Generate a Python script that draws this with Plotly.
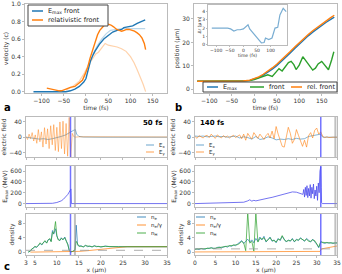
import plotly.graph_objects as go

# ---------------- data ----------------
# top-left: velocity vs time
t_emax = [-118, -90, -60, -45, -35, -25, -15, -5, 0, 5, 10, 15, 20, 30, 40, 50, 60, 70, 80, 85, 95, 105, 115, 125, 133]
v_emax = [0, 0, 0, 0, 0.01, 0.03, 0.06, 0.11, 0.15, 0.25, 0.35, 0.41, 0.46, 0.54, 0.6, 0.64, 0.68, 0.70, 0.71, 0.73, 0.74, 0.75, 0.78, 0.80, 0.82]
t_rel = [-88, -80, -70, -60, -55, -45, -35, -25, -15, -8, -2, 4, 9, 15, 20, 26, 31, 37, 43, 50, 56, 62, 69, 75, 80, 86, 91, 97, 103, 109, 115, 120, 126, 131, 134]
v_rel = [0.04, 0.03, 0.02, 0.01, 0.01, 0.03, 0.05, 0.06, 0.1, 0.13, 0.2, 0.28, 0.38, 0.48, 0.57, 0.65, 0.70, 0.74, 0.77, 0.77, 0.76, 0.74, 0.71, 0.70, 0.69, 0.70, 0.71, 0.71, 0.70, 0.69, 0.67, 0.65, 0.61, 0.55, 0.48]
t_rel_faint = [-45, -30, -15, -5, 5, 15, 22, 28, 35, 43, 50, 60, 70, 80, 90, 100, 108, 115, 122, 128, 134]
v_rel_faint = [0.02, 0.06, 0.12, 0.2, 0.3, 0.38, 0.43, 0.45, 0.5, 0.55, 0.53, 0.52, 0.51, 0.49, 0.46, 0.4, 0.33, 0.25, 0.17, 0.09, 0.0]
t_emax_faint = [15, 25, 35, 45, 55, 65, 80, 100, 120, 133]
v_emax_faint = [0.42, 0.52, 0.6, 0.66, 0.70, 0.71, 0.72, 0.72, 0.72, 0.72]

# top-right: position vs time
t_pos = [-127, -100, -75, -50, -25, -10, 0, 10, 20, 30, 40, 50, 60, 70, 80, 90, 100, 110, 120, 130, 140, 150, 160, 170, 178]
pos_emax = [3.4, 3.4, 3.4, 3.4, 3.5, 3.8, 4.3, 5.0, 6.0, 7.2, 8.6, 10.1, 11.8, 13.6, 15.5, 17.4, 19.3, 21.1, 22.8, 24.4, 25.9, 27.3, 28.6, 29.8, 30.8]
pos_rel = [3.4, 3.4, 3.4, 3.4, 3.5, 3.9, 4.5, 5.3, 6.4, 7.7, 9.1, 10.7, 12.4, 14.2, 16.1, 18.0, 19.9, 21.7, 23.4, 25.0, 26.5, 28.0, 29.4, 30.6, 31.6]
t_front = [-127, -100, -75, -50, -25, -10, 0, 10, 20, 30, 40, 48, 55, 62, 70, 76, 82, 88, 93, 100, 108, 116, 124, 130, 136, 142, 150, 158, 165, 172, 177]
pos_front = [3.4, 3.4, 3.4, 3.4, 3.5, 3.7, 4.1, 4.8, 5.6, 6.2, 5.5, 7.2, 8.8, 7.8, 9.6, 11.4, 11.9, 10.5, 8.4, 10.3, 13.9, 11.8, 9.6, 8.2, 9.0, 10.8, 11.9, 10.0, 8.3, 12.5, 16.0]

# inset: delta r vs time
t_dr = [-116, -90, -58, -47, -35, -23, -12, 0, 12, 17, 23, 35, 47, 58, 66, 76, 81, 93, 105, 116, 126, 134, 146, 157]
dr = [2.0, 2.0, 2.0, 1.9, 1.65, 1.8, 1.8, 1.9, 2.3, 2.4, 1.9, 1.4, 1.0, 0.4, 0.2, 0.25, 0.8, 0.6, 0.8, 2.0, 2.1, 3.6, 4.4, 4.0]

# panel a (50 fs)
xa_ey = [3.0, 3.35, 3.7, 4.05, 4.4, 4.75, 5.1, 5.45, 5.8, 6.15, 6.5, 6.85, 7.2, 7.55, 7.9, 8.25, 8.6, 8.95, 9.3, 9.65, 10.0, 10.35, 10.7, 11.05, 11.4, 11.75, 12.1, 12.45, 12.8, 13.15, 13.5, 13.8, 14.2, 15, 20, 25, 30, 35]
ey_a = [2, -6, 8, -4, 12, -10, 6, -16, 20, -12, 14, -26, 25, -18, 22, -30, 30, -20, 33, -35, 26, -38, 40, -30, 42, -44, 36, -50, 52, -52, 10, 2, 0, 1, 1, 0.5, 0.5, 0.5]
xa_ex = [3, 4, 5, 6, 7, 8, 9, 10, 11, 12, 12.8, 13.3, 13.8, 14.2, 14.5, 15, 16, 20, 25, 30, 35]
ex_a = [0, -2, -4, -5, -4, -6, -4, -2, 2, 6, 12, 15, 18, 20, 8, 2, 0.5, 0, 0, 0, 0]
xa_emax = [3, 5, 7, 9, 10, 11, 11.5, 12, 12.5, 13, 13.2, 13.3, 14.2, 20, 35]
emax_a = [0, 2, 3, 5, 20, 50, 80, 120, 170, 240, 270, 0, 0, 0, 0]
xa_dens = [3.5, 4.0, 4.3, 4.7, 5.0, 5.4, 5.8, 6.2, 6.6, 6.9, 7.3, 7.7, 8.0, 8.4, 8.7, 9.0, 9.3, 9.7, 10.0, 10.3, 10.7, 11.0, 11.4, 11.8, 12.2, 12.5, 12.8, 13.1, 13.6, 14.1, 14.4, 14.7, 15.0, 15.5, 16, 16.5, 17, 17.5, 18, 18.5, 19, 19.5, 20, 21, 22, 23, 24, 25, 27, 30, 35]
ne_a = [0, 0.3, 0.8, 1.2, 1.5, 1.3, 2.0, 2.4, 2.0, 2.6, 3.0, 2.6, 3.4, 3.6, 3.0, 6.0, 5.0, 6.5, 4.5, 3.6, 3.2, 4.0, 3.4, 4.2, 3.0, 2.2, 0.5, 0.0, 0.2, 0.5, 7.5, 2.0, 1.6, 1.8, 1.4, 1.9, 1.5, 1.7, 1.4, 1.8, 1.5, 1.6, 1.4, 1.7, 1.5, 1.6, 1.5, 1.5, 1.5, 1.5, 1.5]
nh_a = [0, 0.3, 0.9, 1.1, 1.6, 1.4, 1.9, 2.6, 2.1, 2.5, 3.2, 2.5, 3.3, 3.8, 2.9, 5.5, 5.2, 8.5, 4.6, 3.4, 3.3, 3.8, 3.5, 4.0, 3.1, 2.0, 0.6, 0.1, 0.2, 0.6, 3.0, 2.2, 1.7, 1.6, 1.5, 1.8, 1.6, 1.6, 1.5, 1.7, 1.6, 1.5, 1.5, 1.6, 1.5, 1.6, 1.5, 1.5, 1.5, 1.5, 1.5]
xa_gam = [4.0, 14.0, 15, 17, 19, 21, 23, 25, 26, 30, 35]
ng_a = [0, 0, 0.2, 0.4, 0.7, 0.9, 1.2, 1.4, 1.5, 1.5, 1.5]
front_a = 13.1
edge_a = 14.1
crit_a = 0.5

# panel b (140 fs)
xb_ey = [0, 0.5, 1, 1.5, 2, 2.5, 3, 3.5, 4, 4.5, 5, 5.5, 6, 6.5, 7, 7.5, 8, 8.5, 9, 9.5, 10, 10.5, 11, 11.5, 12, 12.5, 13, 13.5, 14, 14.5, 15, 15.5, 16, 16.5, 17, 17.5, 18, 18.5, 19, 19.5, 20, 20.5, 21, 21.5, 22, 22.5, 23, 23.5, 24, 24.5, 25, 25.5, 26, 26.5, 27, 27.5, 28, 28.5, 29, 29.5, 30, 30.5, 31, 31.5, 32, 32.5, 33, 33.5, 34, 35]
ey_b = [2, -3, 4, 1, -2, 3, 5, -1, 8, 2, -3, 6, 3, -2, 4, 0, 3, -2, 2, 5, -1, 3, 6, -4, 8, -8, 10, 2, -5, 12, 5, -3, 8, 2, -6, 4, 10, -2, 16, -4, 28, 8, -10, -24, -26, 5, 26, 10, -16, -6, 20, 5, -12, -24, -8, -26, 4, 12, -2, 18, 24, 8, 14, 2, -1, 1, -1, 0.5, 0, 0]
xb_ex = [0, 1, 2, 3, 4, 5, 6, 7, 8, 9, 10, 11, 12, 13, 14, 15, 16, 17, 18, 19, 20, 21, 22, 23, 24, 25, 26, 27, 28, 29, 30, 31, 31.5, 35]
ex_b = [3, 2, 3, 1, 2, 3, 1, 2, 0, 1, 3, -2, 1, -1, -5, 2, -6, -4, 1, -2, -7, -5, -6, -4, -6, -3, -5, -4, 2, 4, 6, 8, 0, 0]
xb_emax = [0, 5, 10, 12, 13, 13.5, 14, 14.5, 15, 16, 17, 18, 19, 20, 21, 22, 23, 24, 25, 26, 26.6, 26.8, 27.0, 27.2, 27.4, 27.6, 27.8, 28.0, 28.2, 28.4, 28.6, 28.8, 29.0, 29.2, 29.4, 29.6, 29.8, 30.0, 30.2, 30.4, 30.6, 30.8, 31.0, 31.1, 31.2, 31.4, 32, 35]
emax_b = [0, 5, 15, 25, 50, 70, 45, 60, 50, 70, 90, 100, 115, 135, 155, 175, 195, 215, 210, 185, 170, 260, 120, 300, 150, 330, 110, 280, 140, 350, 100, 300, 180, 360, 90, 250, 140, 320, 60, 380, 200, 600, 680, 300, 20, 0, 0, 0]
xb_dens = [0, 0.5, 1, 1.5, 2, 2.5, 3, 3.5, 4, 4.5, 5, 5.5, 6, 6.5, 7, 7.5, 8, 8.5, 9, 9.5, 10, 10.5, 11, 11.5, 12, 12.5, 13, 13.5, 14, 14.5, 15, 15.5, 16, 16.5, 17, 17.5, 18, 18.5, 19, 19.5, 20, 20.5, 21, 21.5, 22, 22.5, 23, 23.5, 24, 24.5, 25, 25.5, 26, 26.5, 27, 27.5, 28, 28.5, 29, 29.5, 30, 30.5, 31, 31.5, 32, 32.5, 33, 33.5, 34, 34.5, 35]
ne_b = [0.8, 0.9, 0.7, 1.0, 0.9, 0.8, 1.1, 1.0, 1.2, 1.1, 1.0, 1.3, 1.4, 1.2, 1.5, 1.6, 1.4, 1.8, 1.6, 2.0, 1.8, 2.2, 2.6, 3.2, 2.4, 3.0, 3.6, 2.8, 3.4, 2.6, 3.8, 3.0, 4.2, 3.4, 4.4, 2.8, 3.6, 4.2, 3.0, 3.4, 2.6, 3.8, 3.2, 4.4, 3.6, 2.8, 3.4, 3.0, 3.8, 2.8, 3.6, 3.2, 4.0, 3.4, 3.0, 3.8, 3.2, 2.8, 3.6, 3.0, 2.2, 1.2, 3.0, 2.6, 2.4, 2.7, 2.5, 2.6, 2.4, 2.6, 2.5]
nh_b = [0.8, 0.9, 0.8, 1.0, 0.9, 0.9, 1.0, 1.1, 1.2, 1.0, 1.1, 1.2, 1.3, 1.3, 1.4, 1.5, 1.5, 1.7, 1.7, 1.9, 1.9, 2.1, 2.4, 3.0, 2.6, 0.4, 11.0, 2.5, 3.0, 0.3, 11.0, 2.8, 3.8, 3.6, 4.0, 3.0, 3.4, 4.0, 3.2, 3.2, 2.8, 3.6, 3.4, 4.6, 3.4, 3.0, 3.2, 3.2, 3.6, 3.0, 3.4, 3.4, 3.8, 3.6, 3.2, 3.6, 3.0, 3.0, 3.4, 3.2, 2.4, 1.4, 2.8, 2.7, 2.5, 2.6, 2.6, 2.5, 2.5, 2.5, 2.6]
xb_gam = [0, 10, 20, 30, 30.8, 31.2, 31.6, 32, 33, 34, 35]
ng_b = [0.05, 0.08, 0.1, 0.1, 0.2, 0.9, 1.0, 1.1, 1.3, 1.5, 1.7]
front_b = 31.0
edge_b = 34.6
crit_b = 0.9

# ---------------- style ----------------
W, H = 342, 274
BLUE = "#1f77b4"
ORANGE = "#ff7f0e"
GREEN = "#2ca02c"
EX_C = "rgba(31,119,180,0.55)"
EY_C = "rgba(255,127,14,0.6)"
NE_C = "rgba(31,119,180,0.7)"
NG_C = "rgba(255,127,14,0.7)"
NH_C = "rgba(44,160,44,0.7)"
EMAXC = "rgba(70,70,235,0.75)"
FONT = "DejaVu Sans"
FS = 6
TXT = "#333333"


def xdom(a, b):
    return [a / W, b / W]


def ydom(top, bottom):
    return [1 - bottom / H, 1 - top / H]


fig = go.Figure()


def line(x, y, color, name, xa, ya, width=1.2):
    fig.add_trace(go.Scatter(
        x=x, y=y, mode="lines", name=name,
        line=dict(color=color, width=width),
        xaxis=xa, yaxis=ya, showlegend=False))


# top-left
line(t_emax_faint, v_emax_faint, "rgba(31,119,180,0.3)", "E<sub>max</sub> front (faint)", "x", "y")
line(t_rel_faint, v_rel_faint, "rgba(255,127,14,0.35)", "relativistic front (faint)", "x", "y")
line(t_emax, v_emax, BLUE, "E<sub>max</sub> front", "x", "y", width=1.4)
line(t_rel, v_rel, ORANGE, "relativistic front", "x", "y", width=1.4)

# top-right
line(t_pos, pos_emax, BLUE, "E<sub>max</sub>", "x2", "y2", width=1.4)
line(t_front, pos_front, GREEN, "front", "x2", "y2", width=1.4)
line(t_pos, pos_rel, ORANGE, "rel. front", "x2", "y2", width=1.4)

# inset
line(t_dr, dr, "rgba(31,119,180,0.6)", "Δr", "x3", "y3", width=1.2)

# panel a
line(xa_ex, ex_a, EX_C, "E<sub>x</sub>", "x4", "y4", width=1)
line(xa_ey, ey_a, EY_C, "E<sub>y</sub>", "x4", "y4", width=0.8)
line(xa_emax, emax_a, EMAXC, "E<sub>max</sub>", "x5", "y5", width=1)
line(xa_dens, ne_a, NE_C, "n<sub>e</sub>", "x6", "y6", width=1)
line(xa_gam, ng_a, NG_C, "n<sub>e</sub>/γ", "x6", "y6", width=1)
line(xa_dens, nh_a, NH_C, "n<sub>H</sub>", "x6", "y6", width=1)

# panel b
line(xb_ex, ex_b, EX_C, "E<sub>x</sub>", "x7", "y7", width=1)
line(xb_ey, ey_b, EY_C, "E<sub>y</sub>", "x7", "y7", width=1)
line(xb_emax, emax_b, EMAXC, "E<sub>max</sub>", "x8", "y8", width=1)
line(xb_dens, ne_b, NE_C, "n<sub>e</sub>", "x9", "y9", width=1)
line(xb_gam, ng_b, NG_C, "n<sub>e</sub>/γ", "x9", "y9", width=1)
line(xb_dens, nh_b, NH_C, "n<sub>H</sub>", "x9", "y9", width=1)

AXC = "#bbbbbb"


def ax(domain, rng, anchor, title=None, tickvals=None, showlabels=True, standoff=2, ticktext=None, fs=FS):
    d = dict(domain=domain, range=rng, anchor=anchor, showgrid=False, zeroline=False,
             showline=True, mirror=True, linecolor=AXC, linewidth=1,
             ticks="outside", ticklen=2, tickcolor=AXC, automargin=False,
             tickfont=dict(size=fs, color=TXT, family=FONT),
             showticklabels=showlabels)
    if tickvals is not None:
        d["tickvals"] = tickvals
        d["tickmode"] = "array"
        if ticktext is not None:
            d["ticktext"] = ticktext
    if title:
        d["title"] = dict(text=title, font=dict(size=fs, color=TXT, family=FONT), standoff=standoff)
    return d


tvals = [-100, -50, 0, 50, 100, 150]
ax_x_a = [3, 5, 10, 15, 20, 25, 30, 35]
ax_x_b = [0, 5, 10, 15, 20, 25, 30, 35]

lay = dict(
    width=W, height=H, margin=dict(l=0, r=0, t=0, b=0, autoexpand=False),
    paper_bgcolor="white", plot_bgcolor="white", showlegend=False,
    font=dict(family=FONT, size=FS, color=TXT),
    xaxis=ax(xdom(25, 167), [-137, 182], "y", "time (fs)", tvals),
    yaxis=ax(ydom(4, 93), [-0.015, 1.0], "x", "velocity (c)", [0, 0.2, 0.4, 0.6, 0.8, 1.0],
             ticktext=["0.0", "0.2", "0.4", "0.6", "0.8", "1.0"]),
    xaxis2=ax(xdom(194, 337), [-134, 184], "y2", "time (fs)", tvals),
    yaxis2=ax(ydom(4, 93), [-1.6, 36.4], "x2", "position (μm)", [0, 10, 20, 30]),
    xaxis3=ax(xdom(208, 287), [-130, 160], "y3", "time (fs)", [-100, -50, 0, 50, 100], standoff=0, fs=4.5),
    yaxis3=ax(ydom(5, 45), [-0.05, 4.8], "x3", "Δr (μm)", [0, 1, 2, 3, 4], standoff=0, fs=4.5),
    xaxis4=ax(xdom(26, 167), [3, 35], "y4", None, ax_x_a, showlabels=False),
    yaxis4=ax(ydom(117, 157), [-52, 53], "x4", "electric field", [-40, 0, 40]),
    xaxis5=ax(xdom(26, 167), [3, 35], "y5", None, ax_x_a, showlabels=False),
    yaxis5=ax(ydom(166, 207), [-63, 693], "x5", "E<sub>max</sub> (MeV)", [0, 200, 400, 600]),
    xaxis6=ax(xdom(26, 167), [3, 35], "y6", "x (μm)", ax_x_a),
    yaxis6=ax(ydom(214, 255), [-0.8, 10.6], "x6", "density", [0, 4, 8]),
    xaxis7=ax(xdom(195, 337), [0, 35], "y7", None, ax_x_b, showlabels=False),
    yaxis7=ax(ydom(117, 157), [-52, 53], "x7", "electric field", [-40, 0, 40]),
    xaxis8=ax(xdom(195, 337), [0, 35], "y8", None, ax_x_b, showlabels=False),
    yaxis8=ax(ydom(166, 207), [-63, 693], "x8", "E<sub>max</sub> (MeV)", [0, 200, 400, 600]),
    xaxis9=ax(xdom(195, 337), [0, 35], "y9", "x (μm)", ax_x_b),
    yaxis9=ax(ydom(214, 255), [-0.8, 10.6], "x9", "density", [0, 4, 8]),
)
lay["xaxis3"]["ticklen"] = 1
lay["yaxis3"]["ticklen"] = 1
fig.update_layout(**lay)

# vertical markers
for xa, ya in (("x4", "y4"), ("x5", "y5"), ("x6", "y6")):
    fig.add_shape(type="line", xref=xa, yref=ya + " domain", x0=edge_a, x1=edge_a, y0=0, y1=1,
                  line=dict(color="rgba(150,150,150,0.6)", width=2))
    fig.add_shape(type="line", xref=xa, yref=ya + " domain", x0=front_a, x1=front_a, y0=0, y1=1,
                  line=dict(color="rgba(80,80,255,0.8)", width=1.5))
for xa, ya in (("x7", "y7"), ("x8", "y8"), ("x9", "y9")):
    fig.add_shape(type="line", xref=xa, yref=ya + " domain", x0=edge_b, x1=edge_b, y0=0, y1=1,
                  line=dict(color="rgba(150,150,150,0.6)", width=2))
    fig.add_shape(type="line", xref=xa, yref=ya + " domain", x0=front_b, x1=front_b, y0=0, y1=1,
                  line=dict(color="rgba(80,80,255,0.8)", width=1.5))
fig.add_shape(type="line", xref="x6", yref="y6", x0=3, x1=35, y0=crit_a, y1=crit_a,
              line=dict(color="#999999", width=0.8, dash="dash"))
fig.add_shape(type="line", xref="x9", yref="y9", x0=0, x1=35, y0=crit_b, y1=crit_b,
              line=dict(color="#999999", width=0.8, dash="dash"))


# manual legends (paper coordinates from pixel positions)
def legend_box(x0, y0, x1, y1):
    fig.add_shape(type="rect", xref="paper", yref="paper", x0=x0 / W, x1=x1 / W,
                  y0=1 - y1 / H, y1=1 - y0 / H, fillcolor="white",
                  line=dict(color="#444444", width=1), layer="above")


def legend_entry(x, y, color, text, seg=11, fs=6.5, width=1.5):
    fig.add_shape(type="line", xref="paper", yref="paper", x0=x / W, x1=(x + seg) / W,
                  y0=1 - y / H, y1=1 - y / H, line=dict(color=color, width=width), layer="above")
    fig.add_annotation(xref="paper", yref="paper", x=(x + seg + 3) / W, y=1 - y / H, text=text,
                       showarrow=False, xanchor="left", yanchor="middle",
                       font=dict(size=fs, family=FONT, color="#222222"))


legend_box(28, 5, 108, 26)
legend_entry(32, 11, BLUE, "E<sub>max</sub> front")
legend_entry(32, 20, ORANGE, "relativistic front")

legend_box(203, 82, 337, 92)
legend_entry(207, 87, BLUE, "E<sub>max</sub>", seg=11)
legend_entry(250, 87, GREEN, "front", seg=14)
legend_entry(291, 87, ORANGE, "rel. front", seg=11)

legend_entry(146, 145, EX_C, "E<sub>x</sub>", seg=8, fs=5.5, width=1.2)
legend_entry(146, 152, EY_C, "E<sub>y</sub>", seg=8, fs=5.5, width=1.2)
legend_entry(196, 145, EX_C, "E<sub>x</sub>", seg=8, fs=5.5, width=1.2)
legend_entry(196, 152, EY_C, "E<sub>y</sub>", seg=8, fs=5.5, width=1.2)

legend_entry(137, 217, NE_C, "n<sub>e</sub>", seg=9, fs=5.5, width=1.2)
legend_entry(137, 225, NG_C, "n<sub>e</sub>/γ", seg=9, fs=5.5, width=1.2)
legend_entry(137, 233, NH_C, "n<sub>H</sub>", seg=9, fs=5.5, width=1.2)
legend_entry(196, 217, NE_C, "n<sub>e</sub>", seg=9, fs=5.5, width=1.2)
legend_entry(196, 225, NG_C, "n<sub>e</sub>/γ", seg=9, fs=5.5, width=1.2)
legend_entry(196, 233, NH_C, "n<sub>H</sub>", seg=9, fs=5.5, width=1.2)

# annotations
for text, x, y in (("<b>a</b>", 2, 108), ("<b>b</b>", 173, 108), ("<b>c</b>", 2, 266)):
    fig.add_annotation(xref="paper", yref="paper", showarrow=False, xanchor="left", yanchor="middle",
                       x=x / W, y=1 - y / H, text=text, font=dict(size=10, family=FONT, color="black"))
fig.add_annotation(xref="paper", yref="paper", x=164 / W, y=1 - 123 / H, text="<b>50 fs</b>", showarrow=False,
                   xanchor="right", yanchor="middle", font=dict(size=7, family=FONT, color="black"))
fig.add_annotation(xref="paper", yref="paper", x=198 / W, y=1 - 123 / H, text="<b>140 fs</b>", showarrow=False,
                   xanchor="left", yanchor="middle", font=dict(size=7, family=FONT, color="black"))

fig.write_html("out.html", config={"displayModeBar": False},
               post_script="document.body.style.margin='0';document.body.style.overflow='hidden';")
